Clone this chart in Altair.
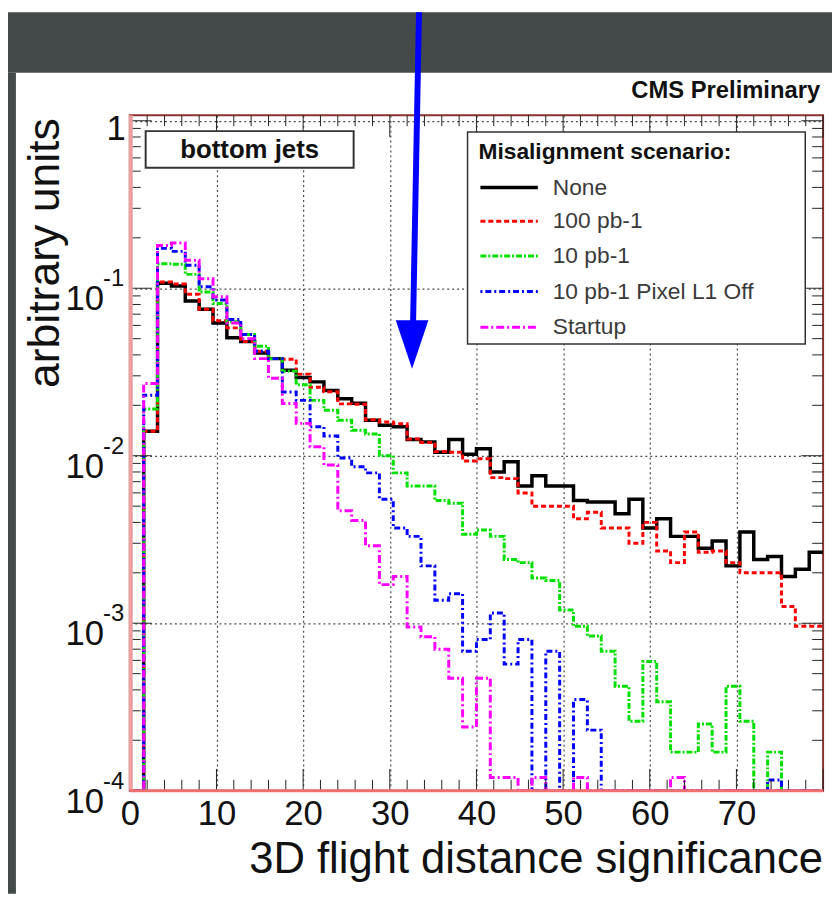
import altair as alt
import pandas as pd
import numpy as np

# ---------------- data ----------------
N_BINS = 50
X_MAX = 80.0
Y_FLOOR = 1e-4

series_names = ["None", "100 pb-1", "10 pb-1", "10 pb-1 Pixel L1 Off", "Startup"]

none_vals = [0, 0.0140, 0.107, 0.103, 0.084, 0.075, 0.062, 0.0506, 0.048, 0.041,
             0.038, 0.0324, 0.0293, 0.0276, 0.0245, 0.0219, 0.0206, 0.0163, 0.0152, 0.0149,
             0.0125, 0.0121, 0.0105, 0.0125, 0.0102, 0.0110, 0.0080, 0.0092, 0.0066, 0.0076,
             0.0066, 0.0066, 0.0054, 0.0053, 0.0053, 0.0045, 0.0055, 0.0037, 0.0042, 0.0033,
             0.0033, 0.0028, 0.0031, 0.0022, 0.0035, 0.0024, 0.0025, 0.0019, 0.0021, 0.00265]

pb100_vals = [0, 0.0140, 0.109, 0.106, 0.092, 0.075, 0.064, 0.058, 0.048, 0.042,
              0.038, 0.0377, 0.0307, 0.0256, 0.0241, 0.0204, 0.0203, 0.0164, 0.0159, 0.0155,
              0.0126, 0.0120, 0.0106, 0.0105, 0.0093, 0.0096, 0.0074, 0.0073, 0.0060, 0.0050,
              0.0050, 0.0050, 0.0042, 0.0046, 0.0037, 0.0037, 0.0030, 0.0040, 0.0027, 0.0023,
              0.0035, 0.00265, 0.0027, 0.0023, 0.0020, 0.0020, 0.0020, 0.00126, 0.00096, 0.00096]

pb10_vals = [0, 0.019, 0.140, 0.139, 0.121, 0.095, 0.081, 0.063, 0.053, 0.045,
             0.038, 0.032, 0.0265, 0.0214, 0.0187, 0.0163, 0.0142, 0.0135, 0.0100, 0.0079,
             0.0066, 0.0066, 0.0054, 0.0052, 0.0034, 0.0036, 0.0033, 0.0024, 0.0023, 0.00186,
             0.0018, 0.0012, 0.00096, 0.00084, 0.00068, 0.00042, 0.00026, 0.00059, 0.00034, 0.00017,
             0.00017, 0.00025, 0.00017, 0.00042, 0.00026, 0, 0.00017, 0, 0, 0]

pixoff_vals = [0, 0.023, 0.173, 0.166, 0.137, 0.102, 0.085, 0.065, 0.053, 0.042,
               0.038, 0.024, 0.0214, 0.0149, 0.0131, 0.0097, 0.0086, 0.0079, 0.0055, 0.0037,
               0.0033, 0.0022, 0.00137, 0.0015, 0.00068, 0.0008, 0.00115, 0.00057, 0.0008, 0,
               0.00068, 0, 0.00035, 0.00023, 0, 0, 0, 0, 0, 0,
               0, 0, 0, 0, 0, 0, 0.000116, 0, 0, 0]

startup_vals = [0, 0.027, 0.180, 0.186, 0.147, 0.114, 0.089, 0.062, 0.050, 0.038,
                0.029, 0.0205, 0.0156, 0.0113, 0.0088, 0.0047, 0.0041, 0.0029, 0.0017, 0.0019,
                0.00095, 0.00083, 0.00070, 0.00047, 0.00024, 0.00047, 0.00012, 0.00012, 0, 0.00012,
                0, 0, 0.00012, 0, 0, 0, 0, 0, 0, 0.00012,
                0, 0, 0, 0, 0, 0, 0, 0, 0, 0]

series_values = [none_vals, pb100_vals, pb10_vals, pixoff_vals, startup_vals]
series_colors = ["#000000", "#ff0000", "#00e000", "#0000ff", "#ff00ff"]
series_dash = [None, [5, 3], [6, 2, 2, 2], [2, 3, 6, 3], [8, 3, 2, 3]]
series_width = [3.5, 3, 3, 3, 3]

x_tick_labels = [0, 10, 20, 30, 40, 50, 60, 70]
x_major_ticks = [0, 10, 20, 30, 40, 50, 60, 70, 80]
x_minor_ticks = [v for v in range(2, 80, 2) if v % 10 != 0]
y_decades = [1e-4, 1e-3, 1e-2, 1e-1, 1.0]
y_sup_values = [1e-4, 1e-3, 1e-2, 1e-1]
y_sup_text = ["-4", "-3", "-2", "-1"]
y_minor_ticks = [k * 10.0 ** e for e in range(-4, 0) for k in range(2, 10)]

legend_title = "Misalignment scenario:"
box_label = "bottom jets"
header = "CMS Preliminary"
x_title = "3D flight distance significance"
y_title = "arbitrary units"

# ---------------- layout ----------------
W, H = 700, 682
FONT = "Liberation Sans"
xscale = alt.Scale(domain=[0, X_MAX], nice=False, zero=False)
yscale = alt.Scale(type="log", domain=[1e-4, 1.078], nice=False)
one = pd.DataFrame({"a": [0]})

GRID = "#4a4a4a"
x_axis = alt.Axis(values=x_tick_labels, grid=True, gridColor=GRID, gridDash=[2, 3], gridWidth=1.2,
                  ticks=False, tickSize=0, domain=False, labels=True, labelFont=FONT, labelFontSize=35,
                  labelColor="#111111", labelPadding=6, labelFlush=False, labelOverlap=False, title=None)
y_axis = alt.Axis(values=y_decades, grid=True, gridColor=GRID, gridDash=[2, 3], gridWidth=1.2,
                  ticks=False, tickSize=0, domain=False, labels=False, title=None)


def X(field):
    return alt.X(field, scale=xscale, axis=x_axis)


def Y(field):
    return alt.Y(field, scale=yscale, axis=y_axis)


layers = []

# dark backdrop strips (the slide background around the white panel)
dark = "#434a49"
layers.append(alt.Chart(one).mark_rect(color=dark).encode(
    x=alt.value(-123), x2=alt.value(W + 9), y=alt.value(-104), y2=alt.value(-43)))
layers.append(alt.Chart(one).mark_rect(color=dark).encode(
    x=alt.value(-123), x2=alt.value(-115), y=alt.value(-43), y2=alt.value(H + 104)))

# histograms
edges = [X_MAX * i / N_BINS for i in range(N_BINS)] + [X_MAX]
for name, vals, col, dash, sw in zip(series_names, series_values, series_colors, series_dash, series_width):
    yv = list(np.maximum(np.array(vals, dtype=float), Y_FLOOR)) + [max(vals[-1], Y_FLOOR)]
    df = pd.DataFrame({"x": edges, "y": yv, "series": name})
    kw = dict(interpolate="step-after", clip=True, color=col, strokeWidth=sw)
    if dash:
        kw["strokeDash"] = dash
    layers.append(alt.Chart(df).mark_line(**kw).encode(x=X("x:Q"), y=Y("y:Q")))

# inward ticks on all four sides
tick_col = "#222222"
xmaj = pd.DataFrame({"x": x_major_ticks})
xmin = pd.DataFrame({"x": x_minor_ticks})
ymaj = pd.DataFrame({"y": y_decades})
ymin = pd.DataFrame({"y": y_minor_ticks})
for d, ln in ((xmaj, 22), (xmin, 11)):
    layers.append(alt.Chart(d).mark_rule(color=tick_col, strokeWidth=1).encode(
        x=X("x:Q"), y=alt.value(H), y2=alt.value(H - ln)))
    layers.append(alt.Chart(d).mark_rule(color=tick_col, strokeWidth=1).encode(
        x=X("x:Q"), y=alt.value(0), y2=alt.value(ln)))
for d, ln in ((ymaj, 22), (ymin, 11)):
    layers.append(alt.Chart(d).mark_rule(color=tick_col, strokeWidth=1).encode(
        y=Y("y:Q"), x=alt.value(0), x2=alt.value(ln)))
    layers.append(alt.Chart(d).mark_rule(color=tick_col, strokeWidth=1).encode(
        y=Y("y:Q"), x=alt.value(W), x2=alt.value(W - ln)))

# coloured frame edges
layers.append(alt.Chart(one).mark_rule(color="#eaa0a0", strokeWidth=4).encode(
    x=alt.value(1), y=alt.value(0), y2=alt.value(H)))
layers.append(alt.Chart(one).mark_rule(color="#f07070", strokeWidth=3).encode(
    x=alt.value(0), x2=alt.value(W), y=alt.value(H)))

# y labels: 10 with superscript exponent
sup_df = pd.DataFrame({"y": y_sup_values, "t": y_sup_text})
layers.append(alt.Chart(sup_df).mark_text(font=FONT, fontSize=35, align="right", baseline="middle",
                                          dy=11, color="#111111").encode(
    y=Y("y:Q"), x=alt.value(-26), text=alt.value("10")))
layers.append(alt.Chart(sup_df).mark_text(font=FONT, fontSize=24, align="left", baseline="middle",
                                          dy=-9, color="#111111").encode(
    y=Y("y:Q"), x=alt.value(-27), text="t:N"))
top_df = pd.DataFrame({"y": [1.0], "t": ["1"]})
layers.append(alt.Chart(top_df).mark_text(font=FONT, fontSize=35, align="right", baseline="middle",
                                          dy=8, color="#111111").encode(
    y=Y("y:Q"), x=alt.value(-4), text="t:N"))

# axis titles
layers.append(alt.Chart(one).mark_text(font=FONT, fontSize=44, align="right", baseline="alphabetic",
                                       color="#111111").encode(
    x=alt.value(W), y=alt.value(765), text=alt.value(x_title)))
layers.append(alt.Chart(one).mark_text(font=FONT, fontSize=45, align="right", baseline="alphabetic",
                                       angle=270, color="#111111").encode(
    x=alt.value(-72), y=alt.value(3), text=alt.value(y_title)))

# header
layers.append(alt.Chart(one).mark_text(font=FONT, fontSize=24, fontWeight="bold", align="right",
                                       baseline="middle", color="#111111").encode(
    x=alt.value(W - 3), y=alt.value(-24), text=alt.value(header)))

# "bottom jets" box
layers.append(alt.Chart(one).mark_rect(fill="#ffffff", stroke="#333333", strokeWidth=2).encode(
    x=alt.value(16), x2=alt.value(226), y=alt.value(16), y2=alt.value(53)))
layers.append(alt.Chart(one).mark_text(font=FONT, fontSize=26, fontWeight="bold", align="center",
                                       baseline="middle", color="#111111").encode(
    x=alt.value(121), y=alt.value(35), text=alt.value(box_label)))

# legend
layers.append(alt.Chart(one).mark_rect(fill="#ffffff", stroke="#333333", strokeWidth=1.5).encode(
    x=alt.value(341), x2=alt.value(682), y=alt.value(17), y2=alt.value(231)))
layers.append(alt.Chart(one).mark_text(font=FONT, fontSize=23, fontWeight="bold", align="left",
                                       baseline="middle", color="#111111").encode(
    x=alt.value(352), y=alt.value(37), text=alt.value(legend_title)))
row_y = [73, 107, 142, 178, 214]
for name, col, dash, sw, ry in zip(series_names, series_colors, series_dash, series_width, row_y):
    kw = dict(color=col, strokeWidth=sw)
    if dash:
        kw["strokeDash"] = dash
    layers.append(alt.Chart(one).mark_rule(**kw).encode(
        x=alt.value(354), x2=alt.value(412), y=alt.value(ry)))
    layers.append(alt.Chart(one).mark_text(font=FONT, fontSize=23, align="left", baseline="middle",
                                           color="#3a3a3a").encode(
        x=alt.value(427), y=alt.value(ry), text=alt.value(name)))

# blue arrow
layers.append(alt.Chart(one).mark_rule(color="#0000ff", strokeWidth=6).encode(
    x=alt.value(292), x2=alt.value(286), y=alt.value(-104), y2=alt.value(210)))
layers.append(alt.Chart(one).mark_point(shape="M-1,-1.48L1,-1.48L0,1.48Z", filled=True, size=1089,
                                        color="#0000ff", opacity=1).encode(
    x=alt.value(285), y=alt.value(231.5)))

chart = alt.layer(*layers).properties(
    width=W, height=H,
    autosize=alt.AutoSizeParams(type="none"),
    padding={"left": 123, "top": 104, "right": 9, "bottom": 104},
    background="#ffffff",
).configure_view(stroke="#8c3030", strokeWidth=2)

chart.save("out.html", embed_options={"renderer": "svg", "actions": False})
